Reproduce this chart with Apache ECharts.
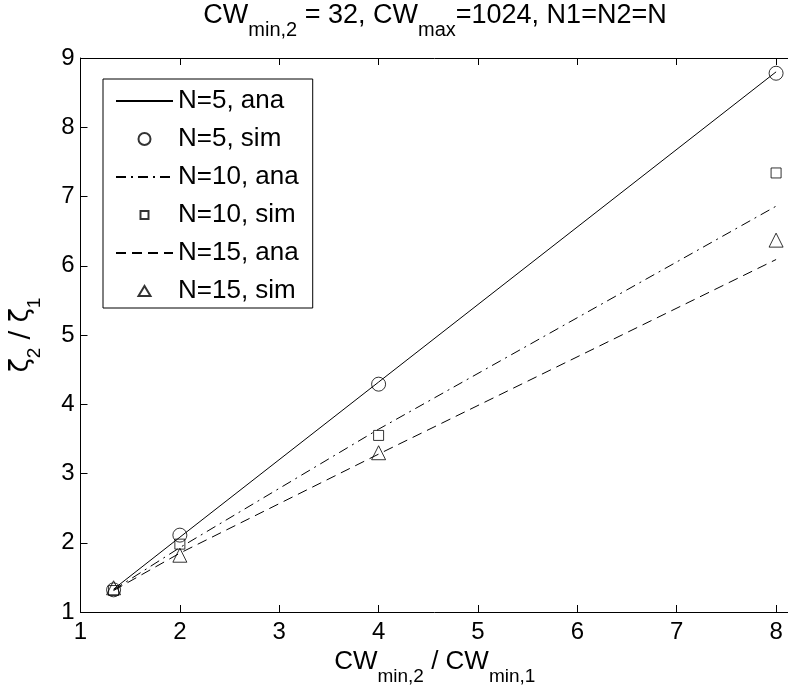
<!DOCTYPE html>
<html>
<head>
<meta charset="utf-8">
<script src="https://cdn.jsdelivr.net/npm/echarts@6/dist/echarts.min.js"></script>
<style>html,body{margin:0;padding:0;background:#fff;}#c{width:788px;height:687px;}</style>
</head>
<body>
<div id="c"></div>
<script>
const xValues = [1.333, 2, 4, 8];
const n5Ana = [1.33, 2.08, 4.32, 8.80];
const n5Sim = [1.32, 2.11, 4.29, 8.78];
const n10Ana = [1.32, 1.93, 3.64, 6.86];
const n10Sim = [1.31, 1.98, 3.55, 7.34];
const n15Ana = [1.31, 1.85, 3.28, 6.09];
const n15Sim = [1.35, 1.82, 3.30, 6.37];
const xTicks = [1, 2, 3, 4, 5, 6, 7, 8];
const yTicks = [1, 2, 3, 4, 5, 6, 7, 8, 9];
const names = ['N=5, ana', 'N=5, sim', 'N=10, ana', 'N=10, sim', 'N=15, ana', 'N=15, sim'];

const FONT = "'Liberation Sans', Arial, Helvetica, sans-serif";
const pair = (ys) => xValues.map((x, i) => [x, ys[i]]);
const chart = echarts.init(document.getElementById('c'), null, {renderer: 'canvas'});

const lineSeries = (name, ys, type) => ({
  name, type: 'line', data: pair(ys), symbol: 'none', silent: true,
  lineStyle: {color: '#000', width: 1, type: type},
  itemStyle: {color: 'rgba(0,0,0,0)', borderColor: 'rgba(0,0,0,0)', borderWidth: 0}
});
const scatterSeries = (name, ys, symbol, size) => ({
  name, type: 'scatter', data: pair(ys), symbol, symbolSize: size, symbolKeepAspect: true, silent: true,
  itemStyle: {color: 'rgba(0,0,0,0)', borderColor: '#000', borderWidth: 1}
});

const richSub = (main, subSize, lh) => ({
  a: {fontSize: main, fontFamily: FONT, fontWeight: 'normal', color: '#000', lineHeight: lh, verticalAlign: 'top'},
  s: {fontSize: subSize, fontFamily: FONT, fontWeight: 'normal', color: '#000', lineHeight: lh, verticalAlign: 'bottom'}
});

const legendData = [
  {name: names[0]},
  {name: names[1], icon: 'circle'},
  {name: names[2]},
  {name: names[3], icon: 'path://M0,0 M57,12 M24.5,2 L32.5,2 L32.5,10 L24.5,10 Z'},
  {name: names[4]},
  {name: names[5], icon: 'path://M0,0 M57,12 M22.5,11 L34.5,11 L28.5,1 Z'}
];

chart.setOption({
  animation: false,
  backgroundColor: '#fff',
  textStyle: {fontFamily: FONT},
  title: {
    text: '{a|CW}{s|min,2}{a| = 32, CW}{s|max}{a|=1024, N1=N2=N}',
    left: 435, top: 2, textAlign: 'center', padding: 0,
    textStyle: {fontWeight: 'normal', rich: richSub(27, 20, 38.5)}
  },
  legend: {
    orient: 'vertical', left: 103, top: 79,
    padding: [9, 14, 4, 12],
    itemWidth: 57, itemHeight: 12, itemGap: 12, itemTextGap: 6,
    borderColor: '#000', borderWidth: 1, backgroundColor: '#fff',
    textStyle: {fontSize: 26, color: '#000', fontFamily: FONT},
    selectedMode: false,
    data: legendData
  },
  grid: {left: 80.5, right: -1, top: 58, bottom: 75, containLabel: false, outerBoundsMode: 'none'},
  xAxis: [{
    type: 'value', min: 1, max: 8.13, interval: 1,
    name: '{a|CW}{s|min,2}{a| / CW}{s|min,1}', nameLocation: 'middle', nameGap: 34,
    nameTextStyle: {rich: richSub(26, 19, 37.5)},
    axisLine: {show: true, lineStyle: {color: '#000', width: 1}},
    axisTick: {show: true, inside: true, length: 7, lineStyle: {color: '#000'}},
    axisLabel: {fontSize: 24, color: '#000', margin: 8, fontFamily: FONT,
      formatter: v => (xTicks.indexOf(Math.round(v * 1000) / 1000) >= 0 ? String(v) : '')},
    splitLine: {show: false}
  }, {
    type: 'value', position: 'top', min: 1, max: 8.13, interval: 1,
    axisLine: {show: true, lineStyle: {color: '#000', width: 1}},
    axisTick: {show: true, inside: true, length: 7, lineStyle: {color: '#000'}},
    axisLabel: {show: false}, splitLine: {show: false}
  }],
  yAxis: [{
    type: 'value', min: 1, max: 9, interval: 1,
    name: '{z|ζ}{s|2}{z| / ζ}{s|1}', nameLocation: 'middle', nameGap: 36, nameRotate: 90,
    nameTextStyle: {rich: {
      z: {fontSize: 26, fontFamily: "'DejaVu Sans', sans-serif", color: '#000', lineHeight: 36, verticalAlign: 'top'},
      s: {fontSize: 19, fontFamily: FONT, color: '#000', lineHeight: 36, verticalAlign: 'bottom'}
    }},
    axisLine: {show: true, lineStyle: {color: '#000', width: 1}},
    axisTick: {show: true, inside: true, length: 7, lineStyle: {color: '#000'}},
    axisLabel: {fontSize: 24, color: '#000', margin: 6, fontFamily: FONT,
      formatter: v => (yTicks.indexOf(v) >= 0 ? String(v) : '')},
    splitLine: {show: false}
  }],
  series: [
    lineSeries(names[0], n5Ana, 'solid'),
    scatterSeries(names[1], n5Sim, 'circle', 14),
    lineSeries(names[2], n10Ana, [10, 5, 2, 5]),
    scatterSeries(names[3], n10Sim, 'rect', 10),
    lineSeries(names[4], n15Ana, [10, 6]),
    scatterSeries(names[5], n15Sim, 'triangle', 14)
  ]
});
</script>
</body>
</html>
